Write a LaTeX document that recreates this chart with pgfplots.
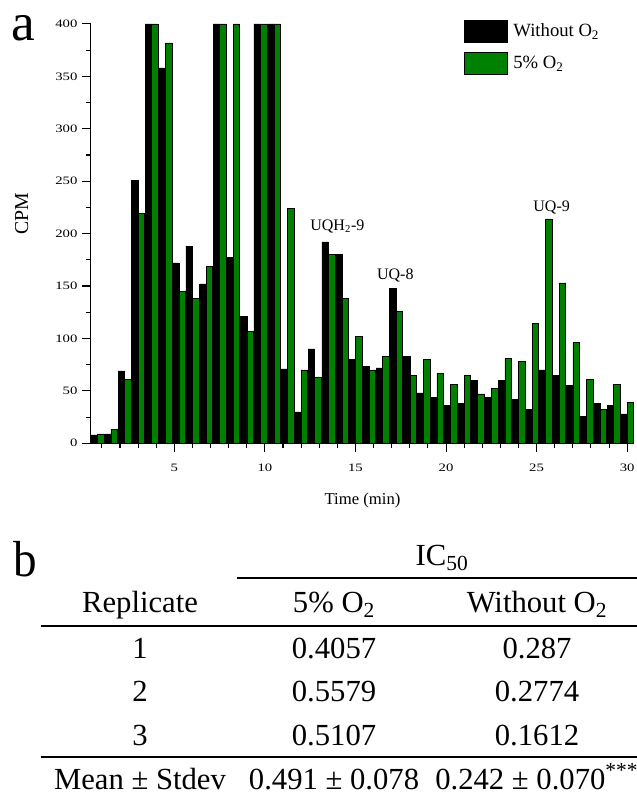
\documentclass[border=0pt]{standalone}
\usepackage{fontspec}
\setmainfont{Liberation Serif}
\usepackage{graphicx}
\usepackage{pgfplots}
\usepackage{pgfplotstable}
\pgfplotsset{compat=1.18}
\definecolor{Otwo}{RGB}{0,128,0}

% counts per fraction: t (min), without O2, 5% O2
\pgfplotstableread{
t     noO  fiveO
0.75  8    9
1.5   9    13
2.25  69   61
3.0   251  219
3.75  400  400
4.5   358  382
5.25  172  145
6.0   188  138
6.75  152  169
7.5   400  400
8.25  177  400
9.0   121  107
9.75  400  400
10.5  400  400
11.25 71   224
12.0  30   70
12.75 90   63
13.5  192  180
14.25 180  138
15.0  80   102
15.75 73   70
16.5  72   83
17.25 148  126
18.0  83   65
18.75 48   80
19.5  44   67
20.25 36   56
21.0  38   65
21.75 60   47
22.5  44   52
23.25 60   81
24.0  42   78
24.75 32   114
25.5  70   214
26.25 65   153
27.0  55   96
27.75 26   61
28.5  38   32
29.25 36   56
30.0  28   39
}\cpm

\newcommand{\tb}[1]{{\fontsize{23}{27}\selectfont #1}}

\begin{document}
\begin{tikzpicture}
\useasboundingbox (0,0) rectangle (477pt,599.25pt);

\begin{axis}[
  at={(68pt,266.8pt)}, anchor=south west,
  scale only axis, width=407.8pt, height=314.5pt,
  xmin=0.38, xmax=30.4, ymin=0, ymax=400,
  axis lines*=left,
  axis line style={-, line width=0.8pt},
  ybar, bar width=0.36,
  xtick={5,10,...,30}, minor xtick={1,...,30},
  ytick={0,50,...,400}, minor ytick={25,75,...,375},
  tick align=outside,
  major tick length=6.4pt, minor tick length=3.2pt,
  tick style={black, line width=0.8pt},
  /pgf/number format/assume math mode=true,
  tick label style={font=\fontsize{8.5}{10}\selectfont},
  xticklabel={\scalebox{1.3}[1]{\pgfmathprintnumber{\tick}}},
  yticklabel={\scalebox{1.3}[1]{\pgfmathprintnumber{\tick}}},
  xticklabel style={yshift=-5.5pt},
  clip mode=individual,
  legend style={at={(rel axis cs:0.687,1.0095)}, anchor=north west,
    draw=none, fill=none, inner sep=0pt, outer sep=0pt,
    row sep=7pt, column sep=4.5pt,
    font=\fontsize{14}{16}\selectfont,
    nodes={inner sep=0pt}},
  legend cell align=left,
  legend image code/.code={\draw[#1] (0pt,-8.3pt) rectangle (32pt,8.3pt);},
]
\addplot[fill=black, draw=black, line width=0.4pt, bar shift=-0.18] table[x=t, y=noO] {\cpm};
\addplot[fill=Otwo, draw=black, line width=0.4pt, bar shift=0.18] table[x=t, y=fiveO] {\cpm};
\legend{Without O\textsubscript{2}, 5\% O\textsubscript{2}}

\node[anchor=base, font=\fontsize{12}{14}\selectfont] at (axis cs:14.0,203) {UQH\textsubscript{2}-9};
\node[anchor=base, font=\fontsize{12}{14}\selectfont] at (axis cs:17.2,155.8) {UQ-8};
\node[anchor=base, font=\fontsize{12}{14}\selectfont] at (axis cs:25.83,221) {UQ-9};
\end{axis}

% panel a labels
\node[anchor=base] at (17.6pt,568.5pt) {\fontsize{40}{44}\selectfont a};
\node[anchor=base, font=\fontsize{12.5}{15}\selectfont] at (271.9pt,220.5pt) {Time (min)};
\node[rotate=90, font=\fontsize{14.8}{17}\selectfont] at (16.3pt,438.75pt) {CPM};

% panel b table
\begin{scope}[every node/.style={inner sep=0pt, anchor=base}]
\node at (18.75pt,166.7pt) {\scalebox{0.93}[1]{\fontsize{38}{42}\selectfont b}};
\node at (331.5pt,174.75pt) {\tb{IC\textsubscript{50}}};
\draw[line width=1.6pt] (177.5pt,165.75pt) -- (480pt,165.75pt);
\node at (105pt,139.5pt) {\tb{Replicate}};
\node at (250.5pt,139.5pt) {\tb{5\% O\textsubscript{2}}};
\node at (402.75pt,139.5pt) {\tb{Without O\textsubscript{2}}};
\draw[line width=1.6pt] (30.5pt,129.75pt) -- (480pt,129.75pt);
\node at (105pt,105.5pt) {\tb{1}};
\node at (250.5pt,105.5pt) {\tb{0.4057}};
\node at (402.75pt,105.5pt) {\tb{0.287}};
\node at (105pt,73pt) {\tb{2}};
\node at (250.5pt,73pt) {\tb{0.5579}};
\node at (402.75pt,73pt) {\tb{0.2774}};
\node at (105pt,40pt) {\tb{3}};
\node at (250.5pt,40pt) {\tb{0.5107}};
\node at (402.75pt,40pt) {\tb{0.1612}};
\draw[line width=1.6pt] (30.5pt,31.3pt) -- (480pt,31.3pt);
\node at (105pt,6.75pt) {\tb{Mean ± Stdev}};
\node at (250.5pt,6.75pt) {\tb{0.491 ± 0.078}};
\node[anchor=base west] at (326.25pt,6.75pt) {\tb{0.242 ± 0.070\textsuperscript{***}}};
\end{scope}
\end{tikzpicture}
\end{document}
